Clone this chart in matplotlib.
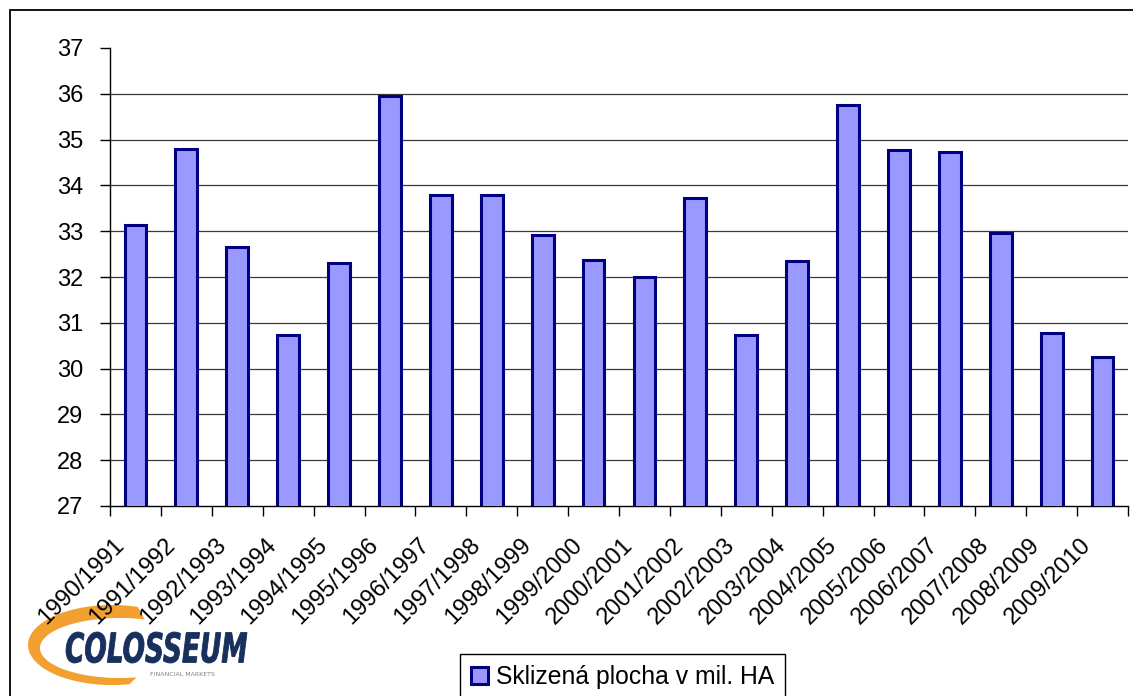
import numpy as np
import matplotlib
matplotlib.use('Agg')
import matplotlib.pyplot as plt
from matplotlib.patches import Rectangle, PathPatch, Polygon
from matplotlib.textpath import TextPath
from matplotlib.font_manager import FontProperties
from matplotlib.transforms import Affine2D, IdentityTransform, ScaledTranslation

seasons = ['1990/1991', '1991/1992', '1992/1993', '1993/1994', '1994/1995',
           '1995/1996', '1996/1997', '1997/1998', '1998/1999', '1999/2000',
           '2000/2001', '2001/2002', '2002/2003', '2003/2004', '2004/2005',
           '2005/2006', '2006/2007', '2007/2008', '2008/2009', '2009/2010']
area = [33.13, 34.80, 32.65, 30.73, 32.30, 35.96, 33.80, 33.80, 32.92, 32.38,
        32.00, 33.73, 30.73, 32.34, 35.75, 34.77, 34.74, 32.95, 30.78, 30.25]
y_ticks = [27, 28, 29, 30, 31, 32, 33, 34, 35, 36, 37]
legend_label = 'Sklizená plocha v mil. HA'

W, H = 1133, 696
FS = 17
plt.rcParams['font.family'] = ['Liberation Sans', 'DejaVu Sans']

fig = plt.figure(figsize=(W / 100, H / 100), dpi=100)
ax = fig.add_axes([110 / W, (H - 506) / H, (1128 - 110) / W, (506 - 48) / H])

x = np.arange(len(seasons))
bars = ax.bar(x, area, width=0.43, color='#9999FF', edgecolor='#000080',
              linewidth=2.2, zorder=3, label=legend_label)

ax.set_xlim(-0.5, len(seasons) - 0.5)
ax.set_ylim(y_ticks[0], y_ticks[-1])
ax.set_yticks(y_ticks)
ax.set_yticklabels([str(v) for v in y_ticks])
for v in y_ticks[1:-1]:
    ax.axhline(v, color='#3a3a3a', linewidth=0.9, zorder=1)

# category boundaries carry the tick marks, centres carry the labels
ax.set_xticks(np.arange(len(seasons) + 1) - 0.5)
ax.set_xticklabels([])
ax.set_xticks(x, seasons, minor=True)
ax.tick_params(axis='x', which='minor', length=0, pad=20, labelsize=FS)
ax.tick_params(axis='x', which='major', direction='out', length=7, width=1)
ax.tick_params(axis='y', direction='out', length=7, width=1, pad=12, labelsize=FS)
shift = ScaledTranslation(-7 / 100, 0, fig.dpi_scale_trans)
for lab in ax.get_xticklabels(minor=True):
    lab.set_rotation(45)
    lab.set_ha('right')
    lab.set_transform(lab.get_transform() + shift)

for side in ['top', 'right']:
    ax.spines[side].set_visible(False)
for side in ['left', 'bottom']:
    ax.spines[side].set_linewidth(1)
    ax.spines[side].set_color('black')

leg = ax.legend(loc='upper left', bbox_to_anchor=(460 / W, 1 - 654 / H),
                bbox_transform=fig.transFigure, fontsize=17.8, frameon=True,
                fancybox=False, edgecolor='black', framealpha=1,
                handlelength=0.7, handleheight=0.7, handletextpad=0.3,
                borderpad=0.45, borderaxespad=0)
leg.get_frame().set_linewidth(1)

# outer chart border (only top and left are inside the picture)
fig.add_artist(Rectangle((9.5, -20), W + 20, H - 9.5 + 20, fill=False,
                         edgecolor='black', linewidth=1.3,
                         transform=IdentityTransform()))

# logo: orange swoosh (thin crescent)
t = np.linspace(np.radians(72), np.radians(282), 120)
outer = np.column_stack([112 + 84 * np.cos(t), 645 - 40 * np.sin(t)])
inner = np.column_stack([120 + 80 * np.cos(t[::-1]), 648 - 30 * np.sin(t[::-1])])
pts = np.vstack([outer, inner])
pts[:, 1] = H - pts[:, 1]
fig.add_artist(Polygon(pts, closed=True, facecolor='#f0900c', edgecolor='none',
                       alpha=0.85, transform=IdentityTransform(), zorder=0))

# logo: word mark
fp = FontProperties(family='DejaVu Sans', weight='bold', style='italic')
tp = TextPath((0, 0), 'COLOSSEUM', size=1, prop=fp)
ext = tp.get_extents()
tr = (Affine2D().translate(-ext.x0, -ext.y0)
      .scale(181 / ext.width, 31 / ext.height)
      .translate(66, H - 663))
fig.add_artist(PathPatch(tr.transform_path(tp), facecolor='#17305e',
                         edgecolor='#17305e', linewidth=0.6,
                         transform=IdentityTransform(), zorder=1))
fig.text(150 / W, 1 - 675 / H, 'FINANCIAL MARKETS', fontsize=4.5, color='#7a8090',
         va='center', ha='left', family='DejaVu Sans')

fig.savefig('out.png', dpi=100)
